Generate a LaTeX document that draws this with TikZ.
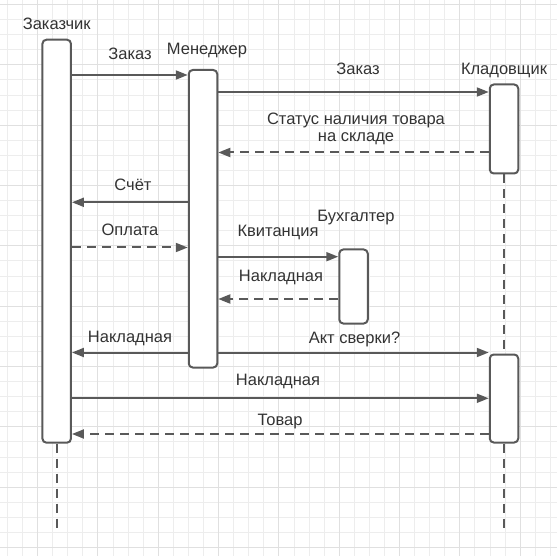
\documentclass[tikz,border=0pt]{standalone}
\usepackage{fontspec}
\setmainfont{Liberation Sans}
\usetikzlibrary{arrows.meta}

\definecolor{linegray}{HTML}{595959}
\definecolor{textgray}{HTML}{333333}
\definecolor{gridminor}{HTML}{EDEDED}
\definecolor{gridmajor}{HTML}{E0E0E0}

\begin{document}
\begin{tikzpicture}[x=1pt,y=-1pt,
    font=\fontsize{16.5}{17.5}\selectfont, text=textgray,
    act/.style={draw=linegray, line width=2pt, fill=white, rounded corners=4pt,
      minimum width=28.5pt, inner sep=0pt, anchor=north},
    msg/.style={draw=linegray, line width=2pt, -{Triangle[length=12pt,width=9pt]}},
    reply/.style={msg, dash pattern=on 9pt off 6pt},
    life/.style={draw=linegray, line width=2pt, dash pattern=on 9pt off 6pt},
    lbl/.style={anchor=base, inner sep=0pt}]

        \useasboundingbox (0,0) rectangle (557,556);

        % background grid
        \foreach \i in {0,...,36} {
          \draw[gridminor, line width=0.8pt] ({7.4+15.08*\i},0) -- ({7.4+15.08*\i},556);
          \draw[gridminor, line width=0.8pt] (0,{4.5+15.08*\i}) -- (557,{4.5+15.08*\i});
        }
        \foreach \i in {2,6,...,34}
          \draw[gridmajor, line width=0.8pt] ({7.4+15.08*\i},0) -- ({7.4+15.08*\i},556);
        \foreach \i in {0,4,...,36}
          \draw[gridmajor, line width=0.8pt] (0,{4.5+15.08*\i}) -- (557,{4.5+15.08*\i});

        % activations
        \node[act, minimum height=403pt] (cust) at (56.7,38.7) {};
        \node[act, minimum height=297.5pt] (mgr) at (203,69) {};
        \node[act, minimum height=89pt] (klad1) at (504,83.5) {};
        \node[act, minimum height=88pt] (klad2) at (504,353.5) {};
        \node[act, minimum height=74pt] (buh) at (353.5,248.5) {};

        % lifelines
        \draw[life] (cust.south) -- (cust.south |- 0,533);
        \draw[life] (klad1.south) -- (klad2.north);
        \draw[life] (klad2.south) -- (klad2.south |- 0,533);

        \node[lbl] (tCust) at (56.7,29.8) {Заказчик};
        \node[lbl] (tMgr) at (207,54.8) {Менеджер};
        \node[lbl] (tKlad) at (504,74.5) {Кладовщик};
        \node[lbl] (tBuh) at (356,221.5) {Бухгалтер};

        % messages
        \draw[msg] (cust.east |- 0,75) -- (mgr.west |- 0,75);
        \draw[msg] (mgr.east |- 0,92) -- (klad1.west |- 0,92);
        \draw[reply] (klad1.west |- 0,152.5) -- (mgr.east |- 0,152.5);
        \draw[msg] (mgr.west |- 0,202.3) -- (cust.east |- 0,202.3);
        \draw[reply] (cust.east |- 0,247.5) -- (mgr.west |- 0,247.5);
        \draw[msg] (mgr.east |- 0,256.7) -- (buh.west |- 0,256.7);
        \draw[reply] (buh.west |- 0,299) -- (mgr.east |- 0,299);
        \draw[msg] (mgr.west |- 0,352.5) -- (cust.east |- 0,352.5);
        \draw[msg] (mgr.east |- 0,352.5) -- (klad2.west |- 0,352.5);
        \draw[msg] (cust.east |- 0,398.3) -- (klad2.west |- 0,398.3);
        \draw[reply] (klad2.west |- 0,434) -- (cust.east |- 0,434);

        \node[lbl] (lOrder) at (130,59.2) {Заказ};
        \node[lbl] (lOrderKlad) at (358,74.2) {Заказ};
        \node[lbl, align=center] (lStatus) at (356,141.8) {Статус наличия товара\\на складе};
        \node[lbl] (lBill) at (133,190.5) {Счёт};
        \node[lbl] (lPay) at (130,235.5) {Оплата};
        \node[lbl] (lReceipt) at (278,236.5) {Квитанция};
        \node[lbl] (lWaybillBuh) at (281,281.5) {Накладная};
        \node[lbl] (lWaybillCust) at (130,342) {Накладная};
        \node[lbl] (lAct) at (354.5,343.5) {Акт сверки?};
        \node[lbl] (lWaybillKlad) at (278,385.5) {Накладная};
        \node[lbl] (lGoods) at (280,425) {Товар};
      \end{tikzpicture}
\end{document}
